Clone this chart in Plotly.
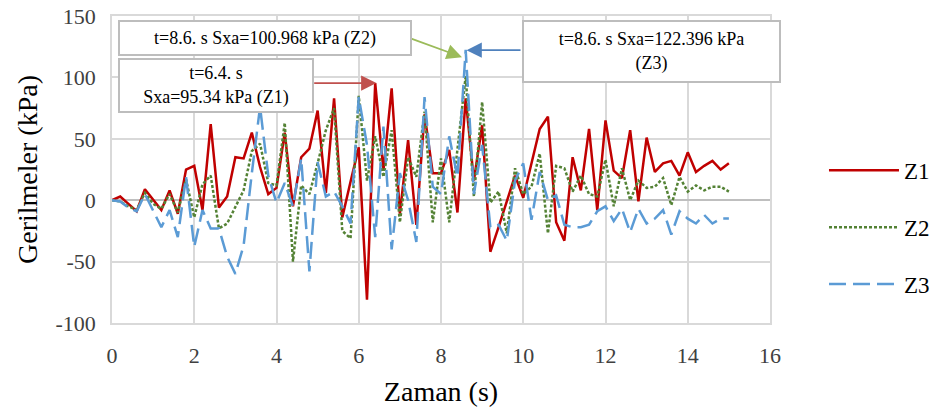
import plotly.graph_objects as go

t = [round(i * 0.2, 1) for i in range(76)]

z1 = [0, 3, -3, -9, 9, 0, -8, 8, -11, 25,
      28, -8, 62, -6, 3, 35, 34, 55, 27, 5,
      10, 55, -5, 35, 42, 73, 6, 83, -14, 15,
      43, -81, 95.34, 24, 91, -11, 49, -20, 70, 22,
      22, 41, -10, 83, 16, 61, -42, -22, 0, 20,
      2, 30, 58, 68, -18, -33, 35, 8, 58, -8,
      65, 24, 18, 57, -1, 51, 23, 30, 32, 20,
      39, 23, 28, 32, 25, 30]

z2 = [0, -1, -5, -8, 6, -3, -7, 5, -10, 17,
      -14, 13, 20, -23, -19, -5, 8, 40, 46, 14,
      12, 63, -50, 12, 5, 30, 57, 75, -25, -31,
      85, 16, 52, 19, 57, -18, 35, 19, 72, -18,
      34, -18, 40, 100.968, 3, 80, -2, 7, -27, 26,
      5, 11, 38, -27, 28, 26, 7, 20, 5, 3,
      33, -5, 26, 0, 16, 10, 11, 18, -4, 19,
      7, 12, 8, 11, 11, 7]

z3 = [0, -1, -6, -9, 5, -8, -22, -8, -30, 19,
      -38, -8, -23, -23, -46, -60, -37, 22, 76, 20,
      -2, 14, -5, 34, -58, 31, 3, 7, -5, -19,
      84, 45, -30, 60, -40, 22, 0, -34, 84, 11,
      5, 52, 19, 122.396, 5, 45, -22, -20, -33, 16,
      30, -16, 23, 0, 4, -20, -22, -22, -20, -9,
      -5, -17, -7, -26, -7, -19, -15, -8, -28, -9,
      -15, -19, -12, -19, -15, -15]

x_ticks = [0, 2, 4, 6, 8, 10, 12, 14, 16]
x_labels = ["0", "2", "4", "6", "8", "10", "12", "14", "16"]
y_ticks = [-100, -50, 0, 50, 100, 150]
y_labels = ["-100", "-50", "0", "50", "100", "150"]

FONT = "Liberation Serif, serif"

fig = go.Figure()
fig.add_trace(go.Scatter(x=t, y=z1, name="Z1", mode="lines", legendgroup="a",
                         line=dict(color="#C00000", width=2.5)))
fig.add_trace(go.Scatter(x=t, y=z2, name="Z2", mode="lines", legendgroup="b",
                         line=dict(color="#548235", width=2.5, dash="3px,2px")))
fig.add_trace(go.Scatter(x=t, y=z3, name="Z3", mode="lines", legendgroup="c",
                         line=dict(color="#5B9BD5", width=2.5, dash="17px,7px")))

# arrows
arrows = [
    dict(x=6.43, y=95.4, ax=4.88, ay=95.4, color="#C0504D"),
    dict(x=8.51, y=116.5, ax=7.24, ay=132, color="#9BBB59"),
    dict(x=8.62, y=122.2, ax=9.97, ay=122.2, color="#4F81BD"),
]
for a in arrows:
    fig.add_annotation(x=a["x"], y=a["y"], ax=a["ax"], ay=a["ay"], xref="x", yref="y",
                       axref="x", ayref="y", text="", showarrow=True, arrowhead=2,
                       arrowsize=1.7, arrowwidth=1.8, arrowcolor=a["color"], standoff=0)

boxes = [
    dict(x=0.14, y=146.7, text="t=8.6. s Sxa=100.968 kPa (Z2)", w=288, h=30),
    dict(x=0.14, y=116.0, text="t=6.4. s<br>Sxa=95.34 kPa (Z1)", w=190, h=49),
    dict(x=9.97, y=146.7, text="t=8.6. s Sxa=122.396 kPa<br>(Z3)", w=253, h=57),
]
for b in boxes:
    fig.add_annotation(x=b["x"], y=b["y"], xref="x", yref="y", xanchor="left", yanchor="top",
                       text=b["text"], showarrow=False, width=b["w"], height=b["h"],
                       align="center", valign="middle", bgcolor="white",
                       bordercolor="#BDBDBD", borderwidth=2, borderpad=1,
                       font=dict(family=FONT, size=18, color="#000000"))

fig.update_layout(
    width=930, height=410,
    margin=dict(l=112, r=160, t=16, b=87),
    paper_bgcolor="white", plot_bgcolor="white",
    font=dict(family=FONT, color="#000000"),
    showlegend=True,
    legend=dict(xref="container", x=0.886, xanchor="left",
                yref="container", y=0.637, yanchor="top",
                font=dict(family=FONT, size=23, color="#000000"),
                tracegroupgap=24, itemwidth=70, bgcolor="rgba(0,0,0,0)"),
)
fig.update_xaxes(range=[0, 16], tickvals=x_ticks, ticktext=x_labels, showgrid=True,
                 gridcolor="#D9D9D9", gridwidth=1.5, zeroline=False, showline=True,
                 linecolor="#D9D9D9", linewidth=1.5, mirror=True, automargin=False,
                 tickfont=dict(family=FONT, size=22, color="#404040"),
                 ticks="", ticklabelstandoff=12,
                 title=dict(text="Zaman (s)", font=dict(family=FONT, size=28, color="#000000"),
                            standoff=14))
fig.update_yaxes(range=[-100, 150], tickvals=y_ticks, ticktext=y_labels, showgrid=True,
                 gridcolor="#D9D9D9", gridwidth=1.5, zeroline=True, zerolinecolor="#BFBFBF",
                 zerolinewidth=1.5, showline=True, linecolor="#D9D9D9", linewidth=1.5,
                 mirror=True, automargin=False,
                 tickfont=dict(family=FONT, size=22, color="#404040"),
                 ticks="", ticklabelstandoff=10,
                 title=dict(text="Gerilmeler (kPa)", font=dict(family=FONT, size=28, color="#000000"),
                            standoff=10))

fig.write_html("out.html")
